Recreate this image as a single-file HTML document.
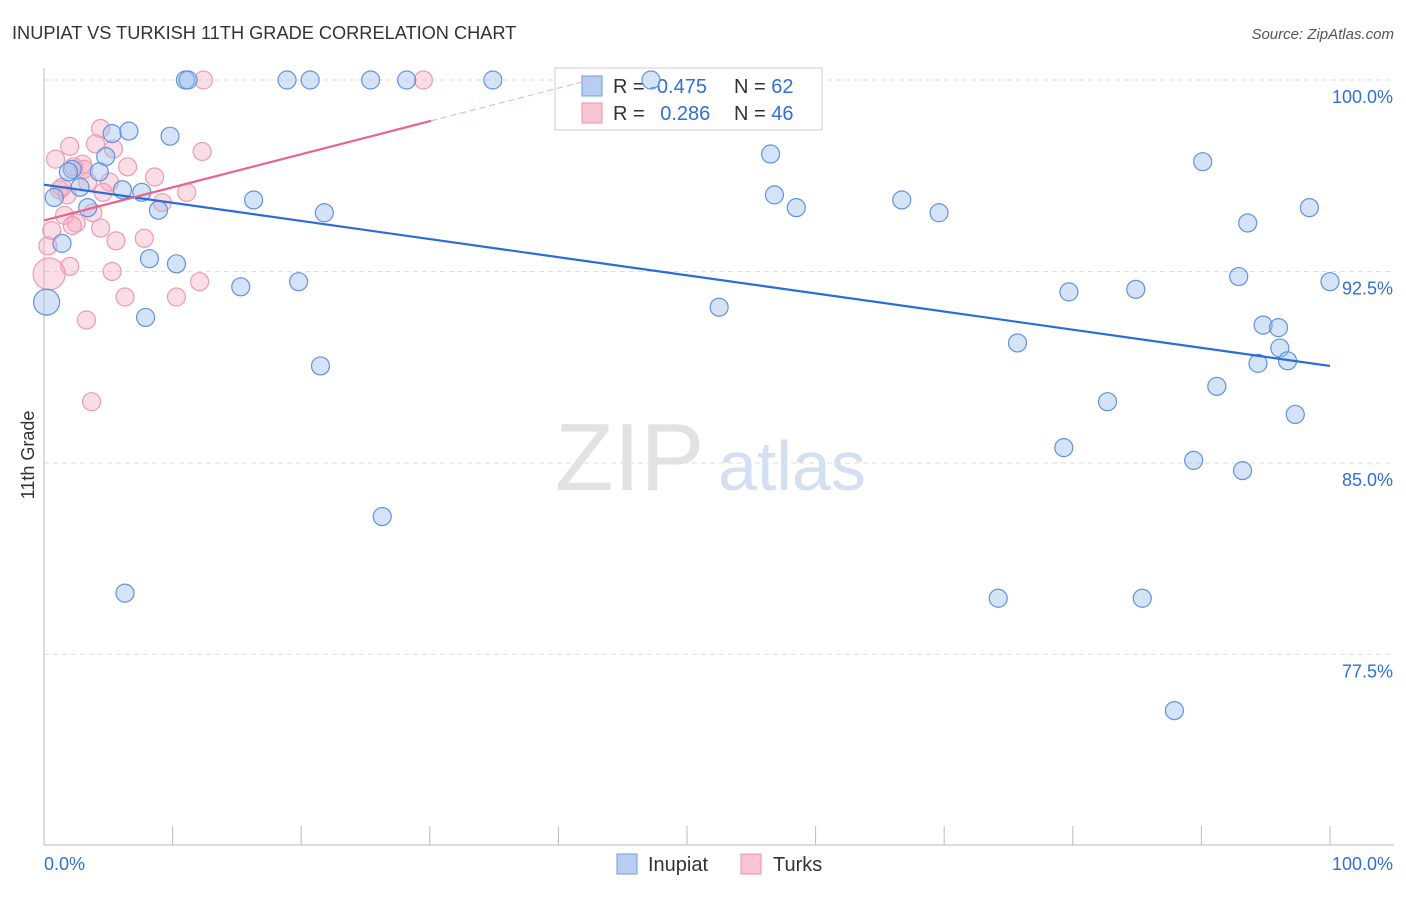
<!DOCTYPE html>
<html><head><meta charset="utf-8"><style>
body{margin:0;background:#fff;font-family:"Liberation Sans",sans-serif}
svg text{font-family:"Liberation Sans",sans-serif}
</style></head><body>
<svg id="chart" width="1406" height="892" viewBox="0 0 1406 892">
<text x="12" y="39" font-size="18.2" fill="#333">INUPIAT VS TURKISH 11TH GRADE CORRELATION CHART</text>
<text x="1394" y="39" font-size="15" fill="#555" font-style="italic" text-anchor="end">Source: ZipAtlas.com</text>
<text x="34" y="455" font-size="18" fill="#333" transform="rotate(-90 34 455)" text-anchor="middle">11th Grade</text>
<g id="grid"></g>
<text x="555" y="490" font-size="96" fill="#e2e2e2" font-family="Liberation Serif">ZIP</text>
<text x="718" y="490" font-size="70" fill="#d3e0f2">atlas</text>
<g>
<rect x="555" y="68" width="267" height="62" fill="#fff" stroke="#ccc"/>
<rect x="582" y="76" width="20" height="20" fill="#b7cef2" stroke="#6f9be0"/>
<rect x="582" y="103" width="20" height="20" fill="#f9c4d3" stroke="#ec91ad"/>
<text x="613" y="93" font-size="20" fill="#333">R = <tspan fill="#2f6fd6">-0.475</tspan></text>
<text x="734" y="93" font-size="20" fill="#333">N = <tspan fill="#2f6fd6">62</tspan></text>
<text x="613" y="120" font-size="20" fill="#333">R = <tspan fill="#2f6fd6" dx="10">0.286</tspan></text>
<text x="734" y="120" font-size="20" fill="#333">N = <tspan fill="#2f6fd6">46</tspan></text>
</g>
<g id="pts"></g>
<g id="lines"></g>
<g>
<rect x="617" y="854" width="20" height="20" fill="#b7cef2" stroke="#6f9be0"/>
<text x="648" y="871" font-size="20" fill="#333">Inupiat</text>
<rect x="741" y="854" width="20" height="20" fill="#f9c4d3" stroke="#ec91ad"/>
<text x="773" y="871" font-size="20" fill="#333">Turks</text>
</g>
</svg>
<script>
const yTicks=[100,92.5,85,77.5];
const yTickLabels=["100.0%","92.5%","85.0%","77.5%"];
const xTickLabels=["0.0%","100.0%"];
const blueX=[11.0,11.2,18.9,20.7,25.4,28.2,34.9,47.2,5.3,6.6,9.8,4.8,2.2,1.9,4.3,6.1,7.6,2.8,0.8,3.4,8.9,16.3,21.8,1.4,8.2,10.3,15.3,19.8,7.9,0.2,21.5,26.3,6.3,56.5,56.8,58.5,66.7,69.6,52.5,75.7,79.7,84.9,82.7,79.3,74.2,85.4,87.9,90.1,93.6,98.4,92.9,100,94.8,96.0,96.1,94.4,96.7,91.2,97.3,89.4,93.2];
const blueY=[100,100,100,100,100,100,100,100,97.9,98.0,97.8,97.0,96.5,96.4,96.4,95.7,95.6,95.8,95.4,95.0,94.9,95.3,94.8,93.6,93.0,92.8,91.9,92.1,90.7,91.3,88.8,82.9,79.9,97.1,95.5,95.0,95.3,94.8,91.1,89.7,91.7,91.8,87.4,85.6,79.7,79.7,75.3,96.8,94.4,95.0,92.3,92.1,90.4,90.3,89.5,88.9,89.0,88.0,86.9,85.1,84.7];
const pinkX=[12.4,29.5,4.4,2.0,5.4,12.3,0.9,3.0,4.0,6.5,8.6,5.1,3.4,1.2,1.8,4.6,11.1,9.2,3.8,1.6,2.5,2.2,4.4,0.6,5.6,7.8,0.3,5.3,2.0,12.1,6.3,10.3,3.3,0.4,3.7,3.1,2.3,1.4];
const pinkY=[100,100,98.1,97.4,97.3,97.2,96.9,96.7,97.5,96.6,96.2,96.0,96.0,95.7,95.5,95.6,95.6,95.2,94.8,94.7,94.4,94.3,94.2,94.1,93.7,93.8,93.5,92.5,92.7,92.1,91.5,91.5,90.6,92.4,87.4,96.5,96.6,95.8];
const blueTrend=[95.9,88.8];
const pinkTrend=[94.5,98.4];
const X0=44,X1=1330;
const xs=p=>X0+p*(X1-X0)/100;
const ys=v=>80+(100-v)*25.53;
const NS="http://www.w3.org/2000/svg";
function mk(t,a,parent){const e=document.createElementNS(NS,t);for(const k in a)e.setAttribute(k,a[k]);parent.appendChild(e);return e;}
const grid=document.getElementById('grid');
yTicks.forEach((v,i)=>{
 const l=mk('line',{x1:X0,x2:1394,y1:ys(v),y2:ys(v),stroke:'#ddd','stroke-dasharray':'5,4'},grid);
 
 
 const t=mk('text',{x:1393,y:ys(v)+23,'font-size':18,fill:'#2f6fd6','text-anchor':'end'},grid);
 t.textContent=yTickLabels[i];
 
 
});
const ax=mk('line',{x1:X0,x2:X0,y1:68,y2:845,stroke:'#bbb'},grid);


const bx=mk('line',{x1:X0,x2:1394,y1:845,y2:845,stroke:'#bbb'},grid);


for(let i=0;i<=10;i++){const t=mk('line',{x1:xs(i*10),x2:xs(i*10),y1:826,y2:845,stroke:'#bbb'},grid);
 
 }
const xl0=mk('text',{x:44,y:870,'font-size':18,fill:'#2f6fd6'},grid);xl0.textContent=xTickLabels[0];


const xl1=mk('text',{x:1393,y:870,'font-size':18,fill:'#2f6fd6','text-anchor':'end'},grid);xl1.textContent=xTickLabels[1];


const pts=document.getElementById('pts');
pinkX.forEach((x,i)=>{const c=mk('circle',{cx:xs(x),cy:ys(pinkY[i]),r:(i==33?16:9),fill:'rgba(246,170,192,0.4)',stroke:'#ee9ab3','stroke-width':1.2},pts);
 
 });
blueX.forEach((x,i)=>{const c=mk('circle',{cx:xs(x),cy:ys(blueY[i]),r:(i==29?13:9),fill:'rgba(160,192,238,0.45)',stroke:'#5f93e0','stroke-width':1.2},pts);
 
 });
const lines=document.getElementById('lines');
const bl=mk('line',{x1:xs(0),y1:ys(blueTrend[0]),x2:xs(100),y2:ys(blueTrend[1]),stroke:'#2a6dd6','stroke-width':2.2},lines);


const pl=mk('line',{x1:xs(0),y1:ys(pinkTrend[0]),x2:xs(30.1),y2:ys(pinkTrend[1]),stroke:'#e8638e','stroke-width':2.2},lines);


const slope=(pinkTrend[1]-pinkTrend[0])/30.1;
const pd=mk('line',{x1:xs(30.1),y1:ys(pinkTrend[1]),x2:xs(43),y2:ys(pinkTrend[0]+slope*43),stroke:'#eeaac0','stroke-width':1,'stroke-dasharray':'6,4'},lines);


</script>
</body></html>
